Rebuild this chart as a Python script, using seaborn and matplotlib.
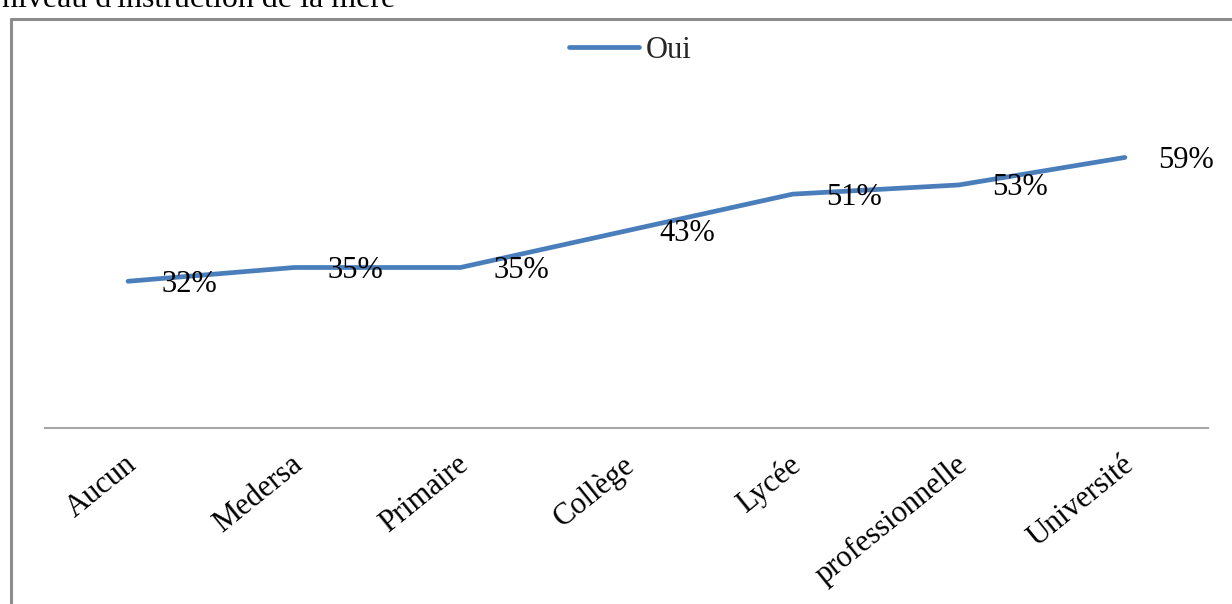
import matplotlib
matplotlib.use("Agg")
import matplotlib.pyplot as plt
import matplotlib.transforms as mtransforms
from matplotlib.lines import Line2D
import seaborn as sns
import pandas as pd

# Niveau d'instruction de la mère et part de "Oui"
niveaux = ["Aucun", "Medersa", "Primaire", "Collège", "Lycée",
           "professionnelle", "Université"]
oui = [32, 35, 35, 43, 51, 53, 59]

sns.set_theme(style="white")
plt.rcParams["font.family"] = ["Liberation Serif", "DejaVu Serif"]

W, H = 1232, 604
FS = 22
fig = plt.figure(figsize=(W / 100, H / 100), dpi=100)
fig.patch.set_facecolor("white")

# heading above the chart frame, running off the top edge
fig.text(2 / W, 1 - 7 / H, "niveau d'instruction de la mère", fontsize=23,
         ha="left", va="baseline", color="black")

# chart frame (left and top edges)
frame_col = "#8c8c8c"
fig.add_artist(Line2D([10.5 / W, 10.5 / W], [0, 1 - 19 / H], transform=fig.transFigure,
                      color=frame_col, lw=2.2))
fig.add_artist(Line2D([10.5 / W, 1], [1 - 19 / H, 1 - 19 / H], transform=fig.transFigure,
                      color=frame_col, lw=2.2))

ax = fig.add_axes([45 / W, 1 - 428 / H, (1208 - 45) / W, (428 - 107) / H])
df = pd.DataFrame({"niveau": niveaux, "Oui": oui})
blue = "#4a7ebb"
sns.lineplot(data=df, x="niveau", y="Oui", ax=ax, color=blue, lw=3.4,
             sort=False, legend=False)

ax.set_xlim(-0.5, len(niveaux) - 0.5)
ax.set_ylim(0, 70)
ax.set_xlabel("")
ax.set_ylabel("")
ax.set_yticks([])
for s in ["left", "right", "top"]:
    ax.spines[s].set_visible(False)
ax.spines["bottom"].set_color("#a6a6a6")
ax.spines["bottom"].set_linewidth(1.5)
ax.tick_params(axis="x", length=0, pad=24)
ax.set_xticks(range(len(niveaux)))
ax.set_xticklabels(niveaux, rotation=39, ha="right", va="center",
                   rotation_mode="anchor", fontsize=FS, color="black")
shift = mtransforms.ScaledTranslation(5 / 100, 0, fig.dpi_scale_trans)
for lab in ax.get_xticklabels():
    lab.set_transform(lab.get_transform() + shift)

for i, v in enumerate(oui):
    ax.annotate(f"{v}%", (i, v), xytext=(61, -3), textcoords="offset pixels",
                ha="center", va="center", fontsize=FS, color="black")

handle = Line2D([], [], color=blue, lw=3.4)
fig.legend([handle], ["Oui"], loc="center", bbox_to_anchor=(630 / W, 1 - 50 / H),
           frameon=False, fontsize=FS, handlelength=2.3, handletextpad=0.2)

fig.savefig("out.png", dpi=100, facecolor="white")
